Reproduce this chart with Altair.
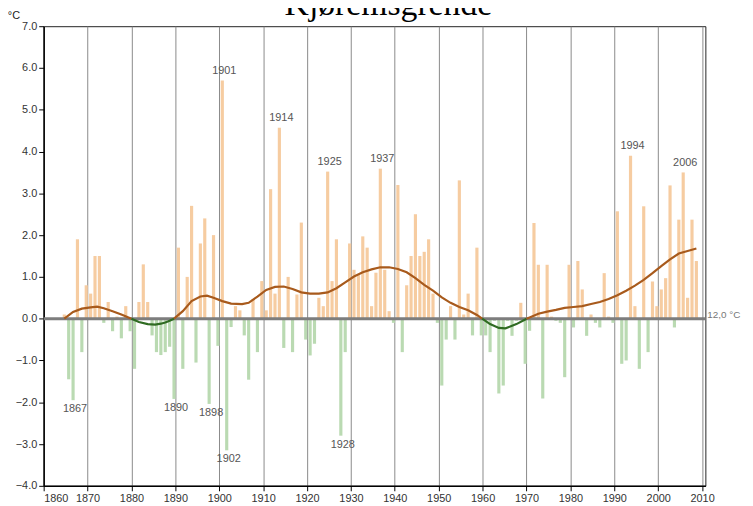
import altair as alt
import pandas as pd

# ---- data ----
years = list(range(1865, 2010))
anomaly = [
    0.1, -1.45, -1.95, 1.9, -0.8, 0.8, 0.6, 1.5, 1.5, -0.1,        # 1865-1874
    0.4, -0.3, 0.05, -0.47, 0.3, -0.3, -1.2, 0.4, 1.3, 0.4,        # 1875-1884
    -0.4, -0.8, -0.87, -0.8, -0.67, -1.92, 1.7, -1.2, 1.0, 2.7,    # 1885-1894
    -1.05, 1.8, 2.4, -2.04, 2.0, -0.65, 5.7, -3.15, -0.2, 0.3,     # 1895-1904
    0.2, -0.4, -1.46, 0.47, -0.8, 0.9, 0.2, 3.1, 0.6, 4.57,        # 1905-1914
    -0.7, 1.0, -0.8, 0.58, 2.3, -0.5, -0.88, -0.6, 0.5, 0.3,       # 1915-1924
    3.52, 0.9, 1.9, -2.8, -0.8, 1.8, 1.17, 1.05, 1.97, 1.7,        # 1925-1934
    0.3, 1.1, 3.59, 1.17, 0.18, -0.1, 3.2, -0.8, 0.8, 1.5,         # 1935-1944
    2.5, 1.5, 1.6, 1.9, 0.6, -0.1, -1.6, -0.5, 0.3, -0.5,          # 1945-1954
    3.31, 0.1, 0.6, -0.4, 1.7, -0.4, -0.4, -0.8, -0.05, -1.79,     # 1955-1964
    -1.6, -0.05, -0.41, -0.05, 0.38, -1.08, -0.29, 2.29, 1.29, -1.91,  # 1965-1974
    1.29, 0.05, -0.05, -0.1, -1.4, 1.29, -0.21, 1.38, 0.7, -0.41,  # 1975-1984
    0.1, -0.1, -0.21, 1.09, 0.05, -0.1, 2.57, -1.08, -1.0, 3.9,    # 1985-1994
    0.3, -1.2, 2.69, -0.8, 0.89, 0.3, 0.7, 0.97, 3.19, -0.21,      # 1995-2004
    2.37, 3.5, 0.5, 2.37, 1.38,                                    # 2005-2009
]

smooth_years = [
    1865, 1867, 1869, 1871, 1872.5, 1874, 1876, 1878, 1880.3, 1882, 1884,
    1885.7, 1887, 1888, 1889, 1890, 1892, 1894, 1896, 1897.5, 1899, 1901,
    1903, 1905.5, 1907, 1909, 1911, 1913, 1915, 1917, 1919, 1921, 1923,
    1925, 1927, 1929, 1931, 1933, 1935, 1937, 1939, 1941, 1943, 1945,
    1947, 1949, 1951, 1953, 1955, 1957, 1959, 1960.2, 1962, 1964, 1965.5,
    1968, 1970, 1970.3, 1971, 1973, 1975, 1977, 1979, 1981, 1983, 1985,
    1987, 1989, 1991, 1993, 1995, 1997, 1999, 2001, 2003, 2005, 2007, 2009,
]
smooth_values = [
    0.0, 0.16, 0.24, 0.27, 0.29, 0.25, 0.18, 0.1, 0.0, -0.08, -0.13,
    -0.14, -0.12, -0.09, -0.05, 0.0, 0.18, 0.42, 0.53, 0.55, 0.5, 0.42,
    0.36, 0.35, 0.38, 0.53, 0.69, 0.76, 0.77, 0.71, 0.63, 0.6, 0.6,
    0.63, 0.73, 0.87, 1.01, 1.11, 1.18, 1.23, 1.23, 1.19, 1.11, 0.97,
    0.81, 0.67, 0.51, 0.38, 0.28, 0.2, 0.09, 0.0, -0.13, -0.22, -0.23,
    -0.13, -0.02, 0.0, 0.03, 0.12, 0.17, 0.21, 0.26, 0.28, 0.3, 0.35,
    0.4, 0.47, 0.56, 0.67, 0.79, 0.93, 1.09, 1.26, 1.42, 1.56, 1.62, 1.68,
]

label_years_up = [1901, 1914, 1925, 1937, 1994, 2006]
label_years_down = [1867, 1890, 1898, 1902, 1928]

title_text = "Kjøremsgrende"
unit_text = "°C"
normal_text = "12,0 °C"

# ---- tables ----
bars = pd.DataFrame({"year": years, "value": anomaly})
val = dict(zip(years, anomaly))
up = pd.DataFrame({"year": label_years_up,
                   "value": [val[y] for y in label_years_up],
                   "label": [str(y) for y in label_years_up]})
down = pd.DataFrame({"year": label_years_down,
                     "value": [val[y] for y in label_years_down],
                     "label": [str(y) for y in label_years_down]})

segments = [[]]
for yr, v in zip(smooth_years, smooth_values):
    segments[-1].append((yr, v))
    if v == 0 and len(segments[-1]) > 1:
        segments.append([(yr, v)])
rows = []
for i, seg in enumerate(segments):
    nz = [v for _, v in seg if v != 0]
    if not nz:
        continue
    sign = "pos" if nz[0] > 0 else "neg"
    for yr, v in seg:
        rows.append({"year": yr, "value": v, "seg": i, "sign": sign})
smooth = pd.DataFrame(rows)

W, H = 668, 464
narrow = "Liberation Sans Narrow, Liberation Sans, Arial, sans-serif"

xscale = alt.Scale(domain=[1860, 2010.75], nice=False, zero=False)
yscale = alt.Scale(domain=[-4, 7], nice=False, zero=False)

xaxis = alt.Axis(
    title=None, values=list(range(1860, 2011, 5)), format="d",
    labelExpr="datum.value % 10 == 0 ? datum.label : ''",
    grid=True, gridColor="#8a8a8a", gridWidth=1,
    domainColor="#000", domainWidth=1.5, tickColor="#000", tickSize=5,
    labelFont=narrow, labelFontSize=11, labelColor="#333", labelPadding=2,
)
yaxis = alt.Axis(
    title=None, values=list(range(-4, 8)), format=".1f", grid=False,
    domainColor="#000", domainWidth=1.5, tickColor="#000", tickSize=5,
    labelFont=narrow, labelFontSize=11, labelColor="#333", labelPadding=2,
)

bar_layer = alt.Chart(bars).transform_calculate(
    x0="datum.year - 0.66", x1="datum.year + 0.06"
).mark_bar(opacity=0.95).encode(
    x=alt.X("x0:Q", scale=xscale, axis=xaxis),
    x2="x1:Q",
    y=alt.Y("value:Q", scale=yscale, axis=yaxis),
    y2=alt.datum(0),
    color=alt.condition("datum.value >= 0", alt.value("#f6c99c"), alt.value("#b6d8ae")),
)

zero_layer = alt.Chart(pd.DataFrame({"v": [0]})).mark_rule(
    color="#7d7d7d", strokeWidth=3
).encode(y=alt.Y("v:Q", scale=yscale))

line_layer = alt.Chart(smooth).transform_calculate(
    xs="datum.year - 0.3"
).mark_line(strokeWidth=2.2).encode(
    x=alt.X("xs:Q", scale=xscale),
    y=alt.Y("value:Q", scale=yscale),
    color=alt.Color("sign:N", scale=alt.Scale(domain=["pos", "neg"],
                                             range=["#a85a1c", "#2f6b22"]),
                    legend=None),
    detail="seg:N",
    order="year:Q",
)

up_layer = alt.Chart(up).transform_calculate(xl="datum.year + 0.15").mark_text(
    baseline="bottom", dy=-5, font=narrow, fontSize=11, color="#555"
).encode(x=alt.X("xl:Q", scale=xscale), y=alt.Y("value:Q", scale=yscale), text="label:N")

down_layer = alt.Chart(down).transform_calculate(xl="datum.year + 0.15").mark_text(
    baseline="top", dy=3, font=narrow, fontSize=11, color="#555"
).encode(x=alt.X("xl:Q", scale=xscale), y=alt.Y("value:Q", scale=yscale), text="label:N")

normal_layer = alt.Chart(pd.DataFrame({"t": [normal_text], "v": [0]})).mark_text(
    align="left", baseline="middle", dx=2, dy=-4, font=narrow, fontSize=10, color="#777"
).encode(x=alt.value(W), y=alt.Y("v:Q", scale=yscale), text="t:N")

unit_layer = alt.Chart(pd.DataFrame({"t": [unit_text]})).mark_text(
    align="center", baseline="middle", font=narrow, fontSize=11, color="#222"
).encode(x=alt.value(-30), y=alt.value(-10), text="t:N")

title_layer = alt.Chart(pd.DataFrame({"t": [title_text]})).mark_text(
    align="center", baseline="alphabetic", font="Liberation Serif, Times New Roman, serif",
    fontSize=34, color="#000"
).encode(x=alt.value(348), y=alt.value(-11), text="t:N")

chart = alt.layer(
    bar_layer, zero_layer, line_layer, up_layer, down_layer,
    normal_layer, unit_layer, title_layer
).resolve_scale(color="independent").properties(
    width=W, height=H,
    autosize=alt.AutoSizeParams(type="none"),
    padding={"left": 36, "top": 16, "right": 40, "bottom": 18},
    background="white",
).configure_view(stroke="#222", strokeWidth=1)

chart.save("out.html", embed_options={"renderer": "svg", "actions": False})
